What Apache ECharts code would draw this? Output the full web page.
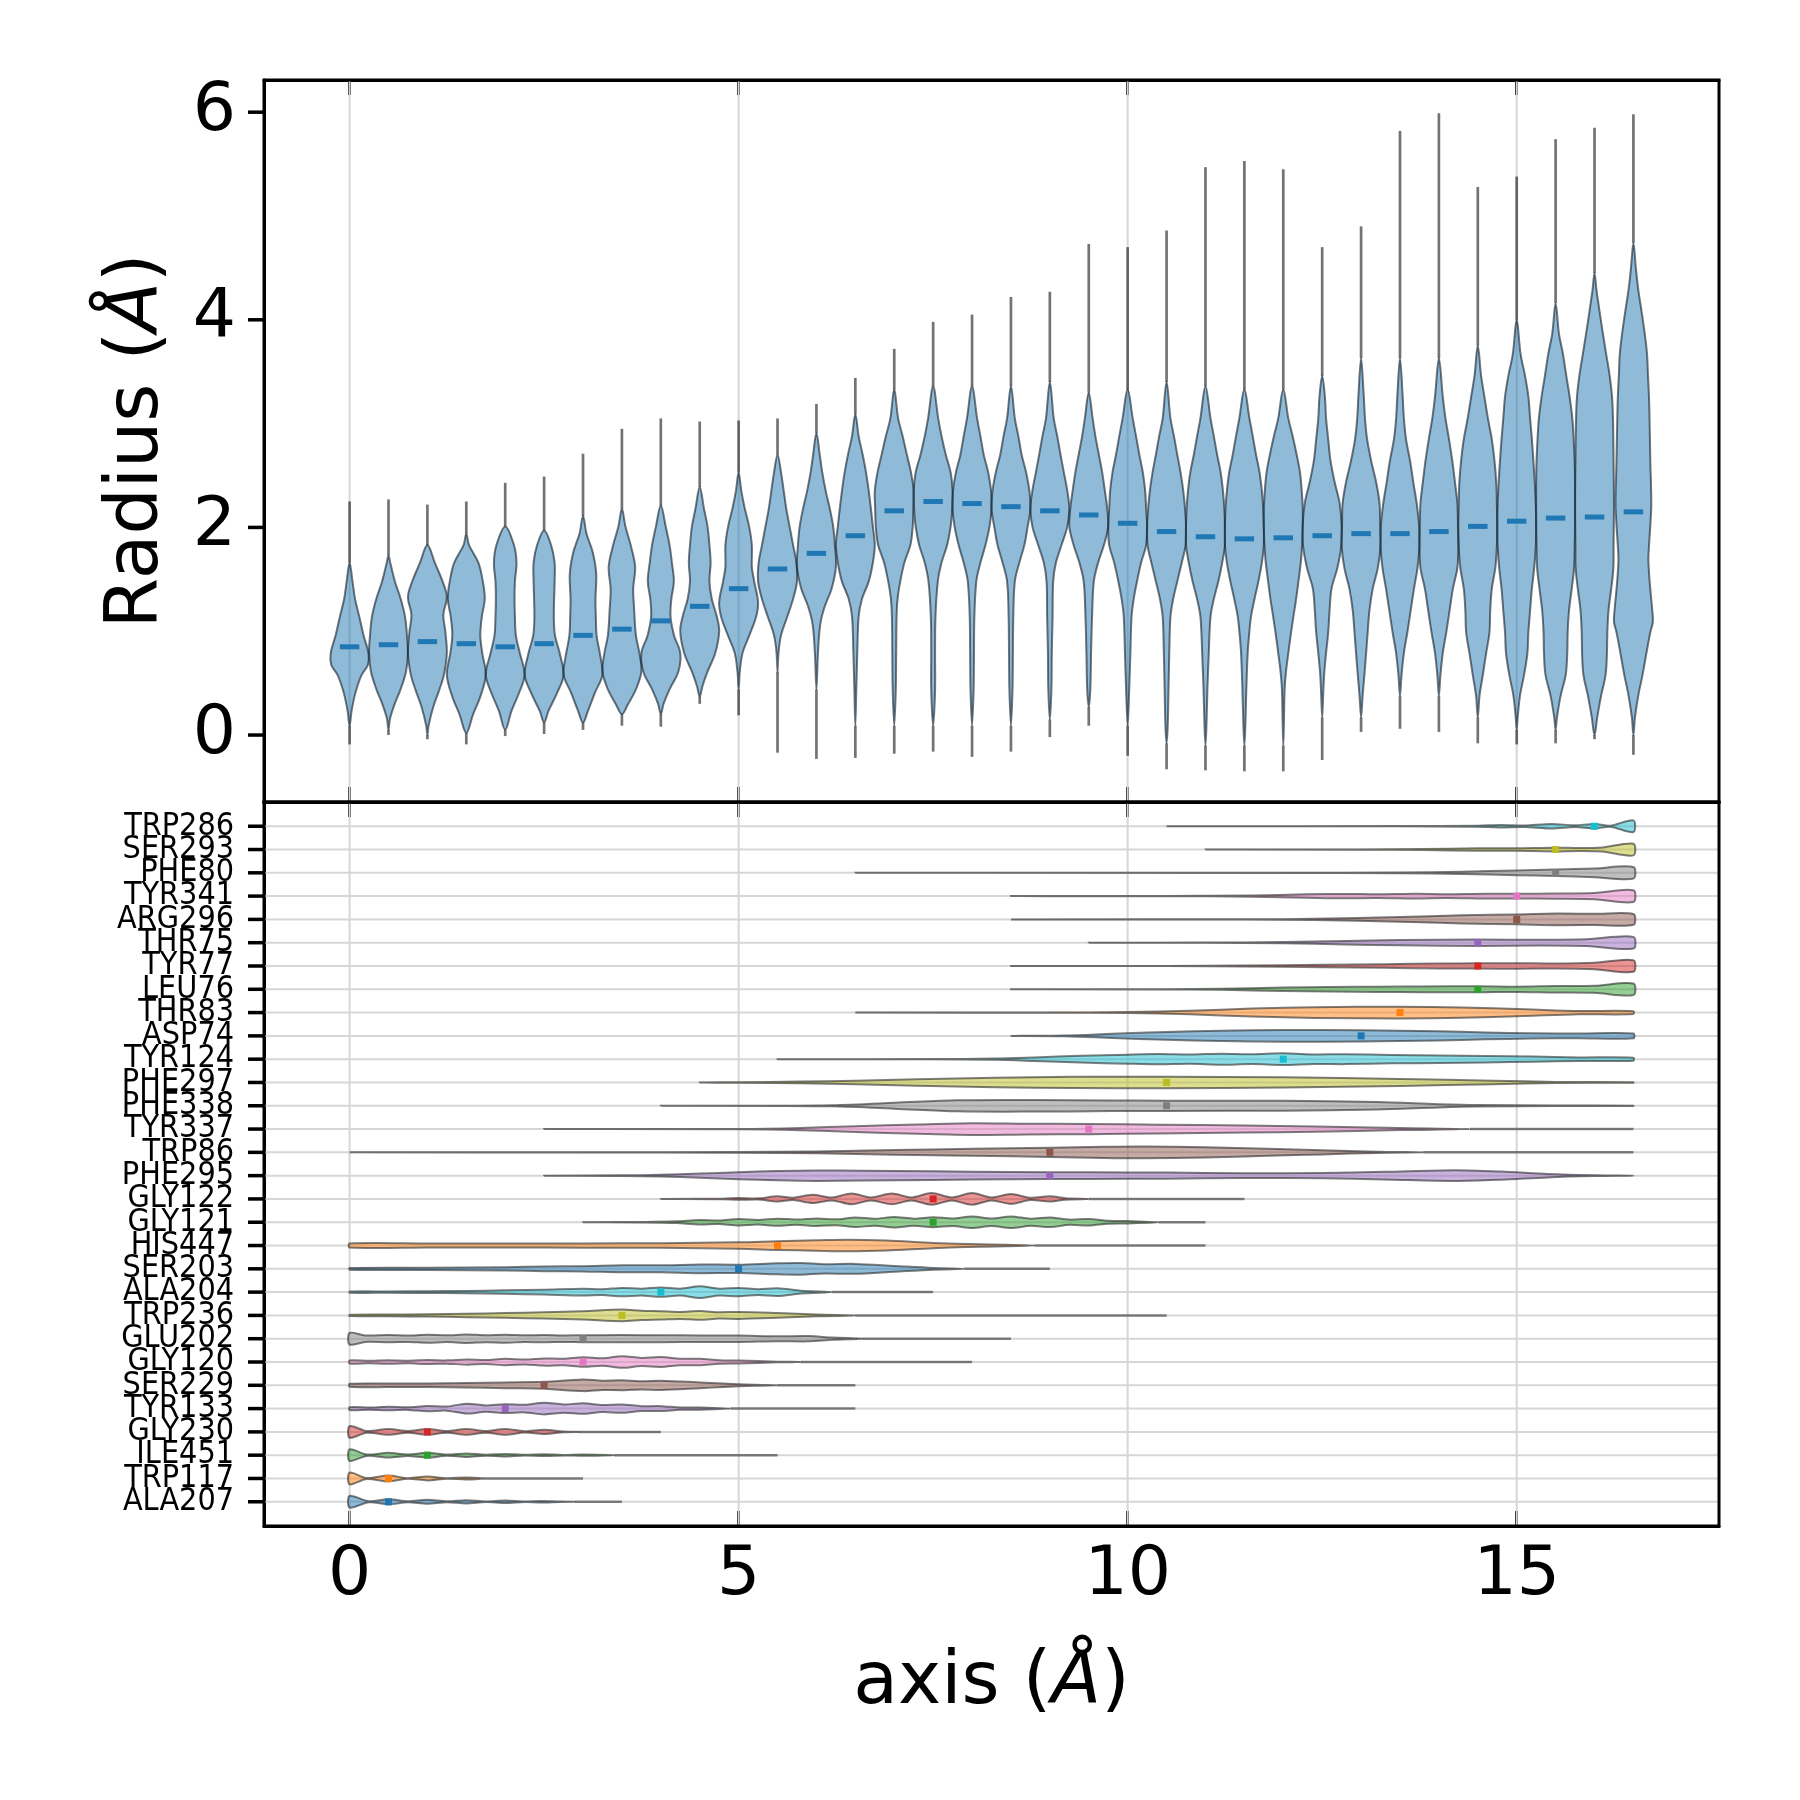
<!DOCTYPE html>
<html>
<head>
<meta charset="utf-8">
<script src="https://cdn.jsdelivr.net/npm/echarts@6/dist/echarts.min.js"></script>
<style>
html, body { margin: 0; background: #fff; }
#main { width: 1800px; height: 1800px; }
</style>
</head>
<body>
<div id="main"></div>
<script>
// ---- top panel: radius distribution along the axis ----
const topPos = [0, 0.5, 1, 1.5, 2, 2.5, 3, 3.5, 4, 4.5, 5, 5.5, 6, 6.5, 7, 7.5, 8, 8.5, 9, 9.5, 10, 10.5, 11, 11.5, 12, 12.5, 13, 13.5, 14, 14.5, 15, 15.5, 16, 16.5];
const topMax = [2.25, 2.27, 2.22, 2.25, 2.43, 2.49, 2.71, 2.95, 3.05, 3.02, 3.03, 3.05, 3.19, 3.44, 3.72, 3.98, 4.05, 4.22, 4.27, 4.73, 4.70, 4.86, 5.47, 5.53, 5.45, 4.70, 4.90, 5.82, 5.99, 5.28, 5.38, 5.74, 5.85, 5.98];
const topMin = [-0.09, 0.0, -0.04, -0.09, -0.01, 0.01, 0.05, 0.09, 0.08, 0.30, 0.19, -0.17, -0.23, -0.22, -0.18, -0.16, -0.21, -0.16, -0.02, 0.09, -0.20, -0.33, -0.34, -0.35, -0.35, -0.24, 0.03, 0.06, 0.03, -0.08, -0.09, -0.08, -0.04, -0.19];
const topMean = [0.85, 0.87, 0.90, 0.88, 0.85, 0.88, 0.96, 1.02, 1.10, 1.24, 1.41, 1.60, 1.75, 1.92, 2.16, 2.25, 2.23, 2.20, 2.16, 2.12, 2.04, 1.96, 1.91, 1.89, 1.90, 1.92, 1.94, 1.94, 1.96, 2.01, 2.06, 2.09, 2.10, 2.15];
// outline of each violin: [radius, relative half width]
const topShapes = [
  [[1.66,0],[1.48,0.15],[1.31,0.28],[1.14,0.5],[0.96,0.72],[0.79,0.97],[0.68,0.95],[0.58,0.62],[0.47,0.4],[0.37,0.25],[0.23,0.1],[0.09,0]],
  [[1.73,0],[1.66,0.09],[1.48,0.33],[1.31,0.63],[1.14,0.85],[0.96,0.95],[0.79,1.0],[0.61,0.9],[0.44,0.62],[0.30,0.32],[0.16,0.08],[0.05,0]],
  [[1.83,0],[1.66,0.38],[1.48,0.78],[1.33,1.0],[1.16,0.82],[1.0,0.92],[0.79,1.0],[0.58,0.85],[0.44,0.62],[0.27,0.3],[0.09,0.06],[0.0,0]],
  [[1.94,0],[1.83,0.14],[1.66,0.62],[1.48,0.85],[1.31,0.95],[1.14,0.8],[0.96,0.72],[0.79,0.82],[0.58,1.0],[0.37,0.72],[0.20,0.35],[0.02,0]],
  [[2.01,0],[1.83,0.45],[1.66,0.58],[1.48,0.5],[1.31,0.48],[1.14,0.5],[0.96,0.55],[0.79,0.75],[0.58,1.0],[0.41,0.72],[0.23,0.32],[0.05,0]],
  [[1.97,0],[1.83,0.36],[1.66,0.54],[1.48,0.54],[1.14,0.5],[0.96,0.56],[0.79,0.8],[0.58,1.0],[0.41,0.68],[0.23,0.22],[0.12,0]],
  [[2.11,0],[1.94,0.18],[1.76,0.5],[1.55,0.68],[1.31,0.64],[1.14,0.66],[0.96,0.7],[0.75,0.9],[0.58,1.0],[0.41,0.62],[0.23,0.25],[0.12,0]],
  [[2.18,0],[2.01,0.18],[1.83,0.45],[1.62,0.68],[1.41,0.58],[1.21,0.63],[0.96,0.72],[0.79,0.9],[0.61,1.0],[0.44,0.72],[0.30,0.32],[0.20,0]],
  [[2.21,0],[2.01,0.25],[1.83,0.45],[1.66,0.57],[1.48,0.67],[1.31,0.54],[1.14,0.5],[0.96,0.68],[0.79,1.0],[0.61,0.9],[0.44,0.45],[0.30,0.14],[0.2,0]],
  [[2.39,0],[2.18,0.22],[2.01,0.4],[1.83,0.5],[1.66,0.56],[1.48,0.5],[1.31,0.62],[1.14,0.88],[1.0,1.0],[0.79,0.8],[0.61,0.4],[0.47,0.14],[0.37,0]],
  [[2.53,0],[2.35,0.14],[2.18,0.32],[2.01,0.54],[1.83,0.68],[1.62,0.68],[1.48,0.8],[1.28,1.0],[1.14,0.9],[0.96,0.55],[0.79,0.2],[0.61,0.06],[0.44,0]],
  [[2.70,0],[2.53,0.18],[2.35,0.32],[2.18,0.45],[2.01,0.62],[1.83,0.8],[1.66,0.97],[1.48,1.0],[1.31,0.8],[1.14,0.5],[0.96,0.18],[0.79,0.05],[0.61,0]],
  [[2.91,0],[2.70,0.17],[2.53,0.3],[2.35,0.48],[2.18,0.69],[2.01,0.86],[1.83,0.95],[1.62,1.0],[1.41,0.78],[1.24,0.43],[1.07,0.2],[0.79,0.08],[0.44,0]],
  [[3.09,0],[2.88,0.17],[2.70,0.38],[2.53,0.55],[2.35,0.69],[2.18,0.8],[2.01,0.9],[1.83,1.0],[1.66,0.9],[1.48,0.69],[1.31,0.34],[1.14,0.17],[0.79,0.1],[0.44,0.05],[0.09,0]],
  [[3.33,0],[3.05,0.2],[2.88,0.43],[2.70,0.65],[2.53,0.86],[2.35,1.0],[2.18,0.98],[2.01,0.95],[1.83,0.83],[1.66,0.52],[1.48,0.31],[1.31,0.17],[1.14,0.12],[0.79,0.1],[0.44,0.08],[0.09,0]],
  [[3.36,0],[3.05,0.26],[2.88,0.43],[2.70,0.65],[2.53,0.9],[2.35,1.0],[2.18,0.98],[2.01,0.9],[1.83,0.72],[1.66,0.43],[1.48,0.24],[1.14,0.12],[0.79,0.1],[0.44,0.1],[0.09,0]],
  [[3.36,0],[3.05,0.26],[2.88,0.43],[2.70,0.6],[2.53,0.83],[2.35,0.98],[2.18,1.0],[2.01,0.9],[1.83,0.69],[1.66,0.43],[1.48,0.22],[1.14,0.12],[0.79,0.1],[0.44,0.08],[0.09,0]],
  [[3.36,0],[3.05,0.2],[2.88,0.38],[2.70,0.55],[2.53,0.78],[2.35,0.95],[2.18,1.0],[2.01,0.86],[1.83,0.69],[1.66,0.43],[1.48,0.2],[1.14,0.12],[0.79,0.1],[0.44,0.08],[0.09,0]],
  [[3.40,0],[3.05,0.2],[2.88,0.38],[2.70,0.55],[2.53,0.72],[2.35,0.9],[2.18,1.0],[2.01,0.9],[1.83,0.6],[1.66,0.31],[1.48,0.17],[1.14,0.14],[0.79,0.1],[0.44,0.08],[0.15,0]],
  [[3.30,0],[3.05,0.2],[2.88,0.34],[2.70,0.52],[2.53,0.69],[2.35,0.83],[2.18,0.95],[2.01,1.0],[1.83,0.78],[1.66,0.48],[1.48,0.26],[1.14,0.17],[0.79,0.12],[0.44,0.08],[0.27,0]],
  [[3.33,0],[3.05,0.26],[2.88,0.43],[2.70,0.6],[2.53,0.78],[2.35,0.9],[2.18,0.95],[2.01,1.0],[1.83,0.95],[1.66,0.69],[1.48,0.48],[1.31,0.31],[1.14,0.2],[0.79,0.14],[0.44,0.08],[0.09,0]],
  [[3.40,0],[3.05,0.2],[2.88,0.38],[2.70,0.55],[2.53,0.72],[2.35,0.86],[2.18,0.95],[2.01,1.0],[1.83,0.98],[1.66,0.78],[1.48,0.55],[1.31,0.34],[1.14,0.2],[0.79,0.14],[0.44,0.1],[0.09,0.06],[-0.08,0]],
  [[3.36,0],[3.05,0.26],[2.88,0.43],[2.70,0.6],[2.53,0.78],[2.35,0.9],[2.18,0.97],[2.01,1.0],[1.83,1.0],[1.66,0.86],[1.48,0.66],[1.31,0.43],[1.14,0.26],[0.79,0.17],[0.44,0.1],[0.09,0.05],[-0.1,0]],
  [[3.33,0],[3.05,0.26],[2.88,0.43],[2.70,0.6],[2.53,0.78],[2.35,0.9],[2.18,0.97],[2.01,1.0],[1.83,1.0],[1.66,0.9],[1.48,0.72],[1.31,0.52],[1.14,0.34],[0.96,0.24],[0.79,0.17],[0.44,0.1],[0.09,0.05],[-0.1,0]],
  [[3.33,0],[3.05,0.26],[2.88,0.48],[2.70,0.69],[2.53,0.86],[2.35,0.95],[2.18,1.0],[2.01,1.0],[1.83,0.97],[1.66,0.9],[1.48,0.78],[1.31,0.66],[1.14,0.52],[0.96,0.38],[0.79,0.26],[0.61,0.14],[0.44,0.07],[0.09,0.03],[-0.1,0]],
  [[3.46,0],[3.26,0.14],[3.05,0.2],[2.85,0.31],[2.64,0.43],[2.43,0.65],[2.23,0.9],[2.02,1.0],[1.82,0.98],[1.61,0.78],[1.41,0.48],[1.20,0.38],[0.99,0.31],[0.79,0.2],[0.58,0.1],[0.38,0.05],[0.17,0]],
  [[3.63,0],[3.26,0.14],[3.05,0.2],[2.85,0.31],[2.64,0.52],[2.43,0.78],[2.23,0.95],[2.02,0.98],[1.82,1.0],[1.61,0.86],[1.41,0.6],[1.20,0.43],[0.99,0.34],[0.79,0.26],[0.58,0.17],[0.38,0.08],[0.17,0]],
  [[3.63,0],[3.26,0.14],[3.05,0.2],[2.85,0.31],[2.64,0.52],[2.43,0.69],[2.23,0.86],[2.02,0.98],[1.82,1.0],[1.61,0.9],[1.41,0.72],[1.20,0.55],[0.99,0.38],[0.79,0.2],[0.58,0.08],[0.38,0]],
  [[3.63,0],[3.26,0.2],[3.05,0.34],[2.85,0.52],[2.64,0.69],[2.43,0.83],[2.23,0.95],[2.02,0.98],[1.82,1.0],[1.61,0.95],[1.41,0.72],[1.20,0.55],[0.99,0.38],[0.79,0.2],[0.58,0.08],[0.38,0]],
  [[3.75,0],[3.46,0.17],[3.26,0.34],[3.05,0.52],[2.85,0.72],[2.64,0.86],[2.43,0.95],[2.23,0.98],[2.02,1.0],[1.82,0.98],[1.61,0.9],[1.41,0.72],[1.20,0.64],[0.99,0.6],[0.79,0.43],[0.58,0.26],[0.38,0.09],[0.17,0]],
  [[4.0,0],[3.67,0.2],[3.46,0.43],[3.26,0.6],[3.05,0.69],[2.85,0.78],[2.64,0.86],[2.43,0.93],[2.23,0.98],[2.02,1.0],[1.82,0.98],[1.61,0.9],[1.41,0.78],[1.20,0.69],[0.99,0.6],[0.79,0.55],[0.58,0.38],[0.38,0.17],[0.17,0.05],[0.05,0]],
  [[4.16,0],[3.87,0.17],[3.67,0.38],[3.46,0.55],[3.26,0.72],[3.05,0.86],[2.85,0.93],[2.64,0.98],[2.43,1.0],[2.02,1.0],[1.82,0.98],[1.61,0.95],[1.41,0.83],[1.20,0.69],[0.99,0.62],[0.79,0.6],[0.58,0.52],[0.38,0.26],[0.17,0.07],[0.05,0]],
  [[4.45,0],[4.29,0.1],[4.08,0.26],[3.87,0.43],[3.67,0.6],[3.46,0.78],[3.26,0.9],[3.05,0.95],[2.64,0.98],[2.23,1.0],[1.82,0.98],[1.61,0.97],[1.41,0.86],[1.20,0.72],[0.99,0.66],[0.79,0.64],[0.58,0.57],[0.38,0.34],[0.17,0.14],[0.0,0]],
  [[4.74,0],[4.49,0.13],[4.29,0.25],[4.08,0.42],[3.87,0.58],[3.67,0.7],[3.46,0.75],[3.26,0.8],[3.05,0.83],[2.64,0.87],[2.23,0.92],[2.02,0.87],[1.82,0.8],[1.69,0.77],[1.49,0.83],[1.20,0.97],[1.09,1.0],[0.99,0.87],[0.79,0.67],[0.58,0.47],[0.38,0.25],[0.17,0.08],[0.0,0]]
];

// ---- bottom panel: residue positions along the axis ----
const residues = ['ALA207', 'TRP117', 'ILE451', 'GLY230', 'TYR133', 'SER229', 'GLY120', 'GLU202', 'TRP236', 'ALA204', 'SER203', 'HIS447', 'GLY121', 'GLY122', 'PHE295', 'TRP86', 'TYR337', 'PHE338', 'PHE297', 'TYR124', 'ASP74', 'THR83', 'LEU76', 'TYR77', 'THR75', 'ARG296', 'TYR341', 'PHE80', 'SER293', 'TRP286'];
const resMin = [0, 0, 0, 0, 0, 0, 0, 0, 0, 0, 0, 0, 3.0, 4.0, 2.5, 0, 2.5, 4.0, 4.5, 5.5, 8.5, 6.5, 8.5, 8.5, 9.5, 8.5, 8.5, 6.5, 11.0, 10.5];
const resMax = [3.5, 3.0, 5.5, 4.0, 6.5, 6.5, 8.0, 8.5, 10.5, 7.5, 9.0, 11.0, 11.0, 11.5, 16.5, 16.5, 16.5, 16.5, 16.5, 16.5, 16.5, 16.5, 16.5, 16.5, 16.5, 16.5, 16.5, 16.5, 16.5, 16.5];
const resMedian = [0.5, 0.5, 1.0, 1.0, 2.0, 2.5, 3.0, 3.0, 3.5, 4.0, 5.0, 5.5, 7.5, 7.5, 9.0, 9.0, 9.5, 10.5, 10.5, 12.0, 13.0, 13.5, 14.5, 14.5, 14.5, 15.0, 15.0, 15.5, 15.5, 16.0];
// outline of each violin: [axis, relative half height]
const resShapes = [
  [[0,1.0],[0.25,0.08],[0.5,0.45],[0.75,0.1],[1.0,0.35],[1.25,0.08],[1.5,0.28],[1.75,0.06],[2.0,0.22],[2.25,0.05],[2.47,0.14],[2.7,0.03],[2.9,0]],
  [[0,1.0],[0.22,0.08],[0.5,0.5],[0.75,0.06],[1.0,0.33],[1.25,0.04],[1.5,0.17],[1.7,0]],
  [[0,1.0],[0.22,0.12],[0.5,0.4],[0.75,0.12],[1.0,0.4],[1.25,0.1],[1.5,0.3],[1.75,0.08],[2.0,0.22],[2.25,0.06],[2.5,0.16],[2.75,0.04],[3.0,0.1],[3.4,0]],
  [[0,1.0],[0.22,0.15],[0.5,0.5],[0.75,0.15],[1.0,0.5],[1.25,0.15],[1.5,0.5],[1.75,0.15],[2.0,0.5],[2.25,0.12],[2.5,0.38],[2.75,0.05],[2.95,0]],
  [[0,0.25],[0.25,0.18],[0.5,0.3],[0.75,0.22],[1.0,0.45],[1.25,0.35],[1.5,0.85],[1.75,0.55],[2.0,0.75],[2.25,0.65],[2.5,1.0],[2.75,0.72],[3.0,0.9],[3.25,0.6],[3.5,0.72],[3.75,0.42],[4.0,0.42],[4.25,0.2],[4.5,0.18],[4.9,0]],
  [[0,0.25],[0.5,0.3],[1.0,0.3],[1.5,0.38],[2.0,0.5],[2.5,0.6],[3.0,1.0],[3.25,0.8],[3.5,0.85],[3.75,0.7],[4.0,0.8],[4.5,0.5],[4.8,0.3],[5.2,0.08],[5.5,0]],
  [[0,0.25],[0.25,0.2],[0.5,0.32],[0.75,0.22],[1.0,0.35],[1.25,0.28],[1.5,0.45],[1.75,0.35],[2.0,0.55],[2.25,0.42],[2.5,0.62],[2.75,0.55],[3.0,0.82],[3.25,0.65],[3.5,1.0],[3.75,0.7],[4.0,0.85],[4.25,0.55],[4.5,0.55],[4.75,0.3],[5.0,0.25],[5.5,0.06],[5.8,0]],
  [[0,1.0],[0.2,0.55],[0.5,0.62],[0.75,0.55],[1.0,0.68],[1.25,0.58],[1.5,0.72],[1.75,0.6],[2.0,0.68],[2.25,0.58],[2.5,0.62],[2.75,0.55],[3.0,0.6],[3.5,0.62],[4.0,0.6],[4.5,0.56],[5.0,0.55],[5.5,0.42],[5.9,0.45],[6.2,0.2],[6.6,0]],
  [[0,0.1],[0.5,0.15],[1.0,0.2],[1.5,0.3],[2.0,0.4],[2.5,0.55],[3.0,0.72],[3.5,1.0],[3.75,0.8],[4.0,0.72],[4.25,0.6],[4.5,0.75],[4.75,0.55],[5.0,0.6],[5.5,0.4],[6.0,0.15],[6.5,0]],
  [[0,0.1],[0.5,0.12],[1.0,0.15],[1.5,0.2],[2.0,0.3],[2.5,0.42],[3.0,0.58],[3.25,0.5],[3.5,0.72],[3.75,0.6],[4.0,0.8],[4.25,0.6],[4.5,1.0],[4.75,0.6],[5.0,0.7],[5.25,0.5],[5.5,0.65],[5.8,0.25],[6.2,0]],
  [[0,0.15],[1.0,0.2],[2.0,0.28],[2.5,0.4],[3.0,0.45],[3.5,0.6],[4.0,0.6],[4.5,0.75],[5.0,0.72],[5.5,0.95],[5.8,1.0],[6.1,0.8],[6.5,0.85],[7.0,0.5],[7.5,0.15],[7.9,0]],
  [[0,0.35],[1.0,0.35],[2.0,0.35],[3.0,0.36],[4.0,0.4],[5.0,0.55],[5.5,0.75],[6.0,0.9],[6.4,1.0],[6.9,0.85],[7.5,0.45],[8.1,0.2],[8.8,0]],
  [[3.0,0],[3.8,0.05],[4.2,0.15],[4.5,0.38],[4.75,0.3],[5.0,0.55],[5.25,0.4],[5.5,0.62],[5.75,0.45],[6.0,0.65],[6.25,0.5],[6.5,0.82],[6.75,0.6],[7.0,0.9],[7.25,0.62],[7.5,0.85],[7.75,0.65],[8.0,1.0],[8.25,0.65],[8.5,1.0],[8.75,0.62],[9.0,0.82],[9.25,0.45],[9.5,0.55],[9.75,0.25],[10.0,0.2],[10.4,0]],
  [[4.0,0],[4.8,0.05],[5.0,0.15],[5.25,0.1],[5.5,0.45],[5.7,0.2],[5.95,0.7],[6.2,0.25],[6.45,0.92],[6.7,0.25],[6.97,0.92],[7.22,0.25],[7.48,1.0],[7.74,0.25],[8.0,1.0],[8.25,0.25],[8.5,0.85],[8.75,0.2],[9.0,0.45],[9.2,0.12],[9.5,0]],
  [[2.5,0],[3.5,0.05],[4.0,0.15],[4.5,0.35],[5.0,0.6],[5.5,0.8],[6.0,0.9],[6.6,0.85],[7.5,0.75],[8.5,0.62],[9.5,0.58],[10.5,0.52],[11.5,0.42],[12.5,0.45],[13.3,0.65],[14.2,0.92],[14.8,0.7],[15.4,0.3],[16.0,0.08],[16.5,0]],
  [[0,0],[3.0,0.02],[5.0,0.06],[6.0,0.15],[7.0,0.4],[8.0,0.6],[9.0,0.78],[9.7,0.95],[10.2,1.0],[11.0,0.88],[11.8,0.6],[12.5,0.35],[13.2,0.1],[13.8,0]],
  [[2.5,0],[5.0,0.03],[5.8,0.2],[6.5,0.5],[7.3,0.8],[8.0,1.0],[8.7,0.92],[9.5,0.88],[10.4,0.75],[11.5,0.6],[12.4,0.45],[13.5,0.18],[14.4,0]],
  [[4.0,0],[5.5,0.02],[6.2,0.1],[7.0,0.5],[7.8,0.95],[8.8,1.0],[9.8,0.92],[10.5,0.88],[12.0,0.85],[13.2,0.65],[14.0,0.28],[14.5,0.12],[15.5,0.05],[16.5,0.02]],
  [[4.5,0],[5.0,0.05],[5.8,0.15],[6.5,0.3],[7.3,0.55],[8.3,0.82],[9.3,0.97],[10.5,1.0],[12.0,0.88],[13.5,0.6],[14.7,0.3],[15.5,0.1],[16.5,0.03]],
  [[5.5,0],[7.5,0.02],[8.3,0.1],[8.8,0.3],[9.4,0.58],[10.0,0.78],[10.4,0.88],[10.8,0.8],[11.2,0.95],[11.6,0.85],[12.0,1.0],[12.4,0.82],[12.8,0.85],[13.4,0.72],[14.0,0.65],[14.6,0.55],[15.2,0.45],[15.8,0.3],[16.5,0.25]],
  [[8.5,0],[9.2,0.05],[9.8,0.35],[10.5,0.68],[11.2,0.9],[12.0,1.0],[13.0,0.95],[14.0,0.8],[14.6,0.6],[15.2,0.45],[15.8,0.42],[16.5,0.42]],
  [[6.5,0],[9.0,0.02],[10.0,0.08],[10.8,0.3],[11.6,0.68],[12.4,0.92],[13.5,1.0],[14.3,0.88],[15.1,0.58],[15.8,0.28],[16.5,0.25]],
  [[8.5,0],[10.5,0.02],[11.2,0.1],[12.0,0.3],[12.6,0.4],[13.2,0.45],[13.8,0.5],[14.5,0.52],[15.0,0.45],[15.5,0.55],[16.0,0.6],[16.5,1.0]],
  [[8.5,0],[10.5,0.02],[11.5,0.08],[12.5,0.2],[13.3,0.32],[14.0,0.42],[14.5,0.45],[15.0,0.48],[15.5,0.42],[16.0,0.55],[16.5,1.0]],
  [[9.5,0],[11.0,0.02],[12.0,0.1],[12.8,0.3],[13.5,0.45],[14.5,0.55],[15.3,0.5],[15.9,0.58],[16.5,1.0]],
  [[8.5,0],[11.5,0.02],[12.4,0.1],[13.5,0.4],[14.3,0.7],[15.0,0.85],[15.5,1.0],[16.0,0.95],[16.5,0.92]],
  [[8.5,0],[10.5,0.02],[11.6,0.1],[12.3,0.3],[12.8,0.38],[13.2,0.32],[13.7,0.4],[14.1,0.33],[14.6,0.42],[15.0,0.4],[15.5,0.45],[16.0,0.55],[16.5,1.0]],
  [[6.5,0],[12.0,0.02],[13.5,0.06],[14.3,0.2],[15.0,0.4],[15.5,0.55],[16.0,0.75],[16.5,1.0]],
  [[11.0,0],[13.0,0.02],[13.8,0.1],[14.5,0.2],[15.0,0.22],[15.5,0.32],[15.8,0.25],[16.1,0.35],[16.5,1.0]],
  [[10.5,0],[13.5,0.02],[14.5,0.1],[14.8,0.2],[15.1,0.12],[15.45,0.4],[15.75,0.15],[16.0,0.4],[16.2,0.08],[16.5,1.0]]
];

const xTicks = [0, 5, 10, 15];
const yTicksTop = [0, 2, 4, 6];
const resIndex = residues.map((r, i) => i);

const palette = ['#1f77b4', '#ff7f0e', '#2ca02c', '#d62728', '#9467bd', '#8c564b', '#e377c2', '#7f7f7f', '#bcbd22', '#17becf'];
const xRange = [-1.1, 17.6];
const topRange = [-0.645, 6.31];
const botRange = [-1.04, 30.04];
const HALF = 0.25;
const TICK = 15;

function hexA(hex, a) {
  const n = parseInt(hex.slice(1), 16);
  return 'rgba(' + (n >> 16) + ',' + ((n >> 8) & 255) + ',' + (n & 255) + ',' + a + ')';
}

// outline points of one violin, going down one side and back up the other
function outline(api, pos, profile, horizontal) {
  const a = [], b = [];
  profile.forEach(p => {
    const w = p[1] * HALF;
    a.push(api.coord(horizontal ? [p[0], pos + w] : [pos + w, p[0]]));
    b.push(api.coord(horizontal ? [p[0], pos - w] : [pos - w, p[0]]));
  });
  b.reverse();
  if (profile[profile.length - 1][1] === 0) b.shift();
  if (profile[0][1] === 0) b.pop();
  return a.concat(b);
}

function seg(p1, p2, style) {
  return { type: 'line', shape: { x1: p1[0], y1: p1[1], x2: p2[0], y2: p2[1] }, style: style };
}

const fontMain = 'DejaVu Sans';
const tickStyle = { show: true, length: TICK, lineStyle: { color: '#000', width: 3 } };
const blackLine = { show: true, onZero: false, lineStyle: { color: '#000', width: 3 } };

function xAxisFor(grid, position, withLabels) {
  return {
    type: 'value', gridIndex: grid, position: position, min: xRange[0], max: xRange[1],
    axisLine: blackLine,
    axisTick: Object.assign({ inside: true, customValues: xTicks }, tickStyle),
    axisLabel: withLabels ? {
      show: true, customValues: xTicks, fontSize: 68, fontFamily: fontMain, color: '#000', margin: 16,
      showMinLabel: true, showMaxLabel: true
    } : { show: false },
    splitLine: { show: false }
  };
}

const xAxes = [xAxisFor(0, 'bottom', false), xAxisFor(0, 'top', false), xAxisFor(1, 'bottom', true), xAxisFor(1, 'top', false)];
Object.assign(xAxes[2], {
  name: '{a|axis (}{b|Å}{a|)}',
  nameLocation: 'middle',
  nameGap: 122,
  nameTextStyle: {
    rich: {
      a: { fontSize: 73, fontFamily: fontMain, color: '#000' },
      b: { fontSize: 73, fontFamily: fontMain, fontStyle: 'italic', color: '#000' }
    }
  }
});

// left-side tick marks (and residue names) placed through the y scales
function leftTicks(api, yVal, label) {
  const p = api.coord([xRange[0], yVal]);
  const children = [{
    type: 'rect', z2: 100,
    shape: { x: p[0] - TICK - 1, y: p[1] - 1.75, width: TICK + 1, height: 3.5 },
    style: { fill: '#000' }
  }];
  if (label) {
    children.push({
      type: 'text', x: p[0] - 30, y: p[1],
      style: {
        text: label, fill: '#000', fontSize: 32,
        fontFamily: "'DejaVu Sans Condensed', 'DejaVu Sans'",
        align: 'right', verticalAlign: 'middle', textAlign: 'right', textVerticalAlign: 'middle'
      }
    });
  }
  return { type: 'group', children: children };
}

const option = {
  backgroundColor: '#fff',
  animation: false,
  grid: [
    { left: 264, top: 80, width: 1455, height: 722, show: true, borderColor: '#000', borderWidth: 3, backgroundColor: 'transparent', z: 10 },
    { left: 264, top: 802, width: 1455, height: 724, show: true, borderColor: '#000', borderWidth: 3, backgroundColor: 'transparent', z: 10 }
  ],
  xAxis: xAxes,
  yAxis: [
    {
      type: 'value', gridIndex: 0, position: 'left', min: topRange[0], max: topRange[1],
      axisLine: blackLine,
      axisTick: { show: false },
      axisLabel: { customValues: yTicksTop, fontSize: 68, fontFamily: fontMain, color: '#000', margin: 28, showMinLabel: true, showMaxLabel: true },
      splitLine: { show: false },
      name: '{a|Radius (}{b|Å}{a|)}',
      nameLocation: 'middle',
      nameRotate: 90,
      nameGap: 89,
      nameTextStyle: {
        rich: {
          a: { fontSize: 73, fontFamily: fontMain, color: '#000' },
          b: { fontSize: 73, fontFamily: fontMain, fontStyle: 'italic', color: '#000' }
        }
      }
    },
    {
      type: 'value', gridIndex: 1, position: 'left', min: botRange[0], max: botRange[1],
      axisLine: blackLine,
      axisTick: { show: false },
      axisLabel: { show: false },
      splitLine: { show: false }
    }
  ],
  series: [
    // vertical grid lines, top panel
    {
      type: 'custom', xAxisIndex: 0, yAxisIndex: 0, silent: true, z: 1,
      data: xTicks.map(v => [v, 0]),
      renderItem: (params, api) => seg(api.coord([api.value(0), topRange[0]]), api.coord([api.value(0), topRange[1]]),
        { stroke: '#d6d6d6', lineWidth: 2 })
    },
    // vertical grid lines, bottom panel
    {
      type: 'custom', xAxisIndex: 2, yAxisIndex: 1, silent: true, z: 1,
      data: xTicks.map(v => [v, 0]),
      renderItem: (params, api) => seg(api.coord([api.value(0), botRange[0]]), api.coord([api.value(0), botRange[1]]),
        { stroke: '#d6d6d6', lineWidth: 2 })
    },
    // horizontal grid lines, bottom panel
    {
      type: 'custom', xAxisIndex: 2, yAxisIndex: 1, silent: true, z: 1,
      data: resIndex.map(i => [0, i]),
      renderItem: (params, api) => seg(api.coord([xRange[0], api.value(1)]), api.coord([xRange[1], api.value(1)]),
        { stroke: '#d6d6d6', lineWidth: 2 })
    },
    // left ticks, top panel
    {
      type: 'custom', xAxisIndex: 0, yAxisIndex: 0, silent: true, clip: false, z: 20,
      data: yTicksTop.map(v => [xRange[0], v]),
      renderItem: (params, api) => leftTicks(api, api.value(1), null)
    },
    // left ticks and residue names, bottom panel
    {
      type: 'custom', xAxisIndex: 2, yAxisIndex: 1, silent: true, clip: false, z: 20,
      data: resIndex.map(i => [xRange[0], i]),
      renderItem: (params, api) => leftTicks(api, api.value(1), residues[params.dataIndex])
    },
    // top violins
    {
      type: 'custom', xAxisIndex: 0, yAxisIndex: 0, silent: true, z: 2,
      data: topPos.map((p, i) => [p, topMean[i]]),
      renderItem: (params, api) => {
        const i = params.dataIndex;
        const pos = topPos[i];
        const prof = topShapes[i];
        const wl = { stroke: 'rgba(0,0,0,0.55)', lineWidth: 2.7 };
        const children = [];
        children.push(seg(api.coord([pos, topMax[i]]), api.coord([pos, prof[0][0]]), wl));
        children.push(seg(api.coord([pos, prof[prof.length - 1][0]]), api.coord([pos, topMin[i]]), wl));
        children.push({
          type: 'polygon',
          shape: { points: outline(api, pos, prof, false), smooth: 0.35 },
          style: { fill: 'rgba(31,119,180,0.5)', stroke: 'rgba(20,30,40,0.6)', lineWidth: 2 }
        });
        children.push(seg(api.coord([pos - 0.125, topMean[i]]), api.coord([pos + 0.125, topMean[i]]),
          { stroke: '#1f77b4', lineWidth: 5 }));
        return { type: 'group', children: children };
      }
    },
    // bottom violins
    {
      type: 'custom', xAxisIndex: 2, yAxisIndex: 1, silent: true, z: 2,
      data: resIndex.map(i => [resMedian[i], i]),
      renderItem: (params, api) => {
        const i = params.dataIndex;
        const prof = resShapes[i];
        const col = palette[i % 10];
        const wl = { stroke: 'rgba(0,0,0,0.45)', lineWidth: 2.5 };
        const children = [];
        if (prof[0][0] > resMin[i]) {
          children.push(seg(api.coord([resMin[i], i]), api.coord([prof[0][0], i]), wl));
        }
        if (prof[prof.length - 1][0] < resMax[i]) {
          children.push(seg(api.coord([prof[prof.length - 1][0], i]), api.coord([resMax[i], i]), wl));
        }
        children.push({
          type: 'polygon',
          shape: { points: outline(api, i, prof, true), smooth: 0.3 },
          style: { fill: hexA(col, 0.5), stroke: 'rgba(40,40,40,0.6)', lineWidth: 2 }
        });
        const c = api.coord([resMedian[i], i]);
        children.push({ type: 'rect', shape: { x: c[0] - 3.5, y: c[1] - 3.5, width: 7, height: 7 }, style: { fill: col } });
        return { type: 'group', children: children };
      }
    }
  ]
};

const chart = echarts.init(document.getElementById('main'), null, { renderer: 'canvas' });
chart.setOption(option);
</script>
</body>
</html>
